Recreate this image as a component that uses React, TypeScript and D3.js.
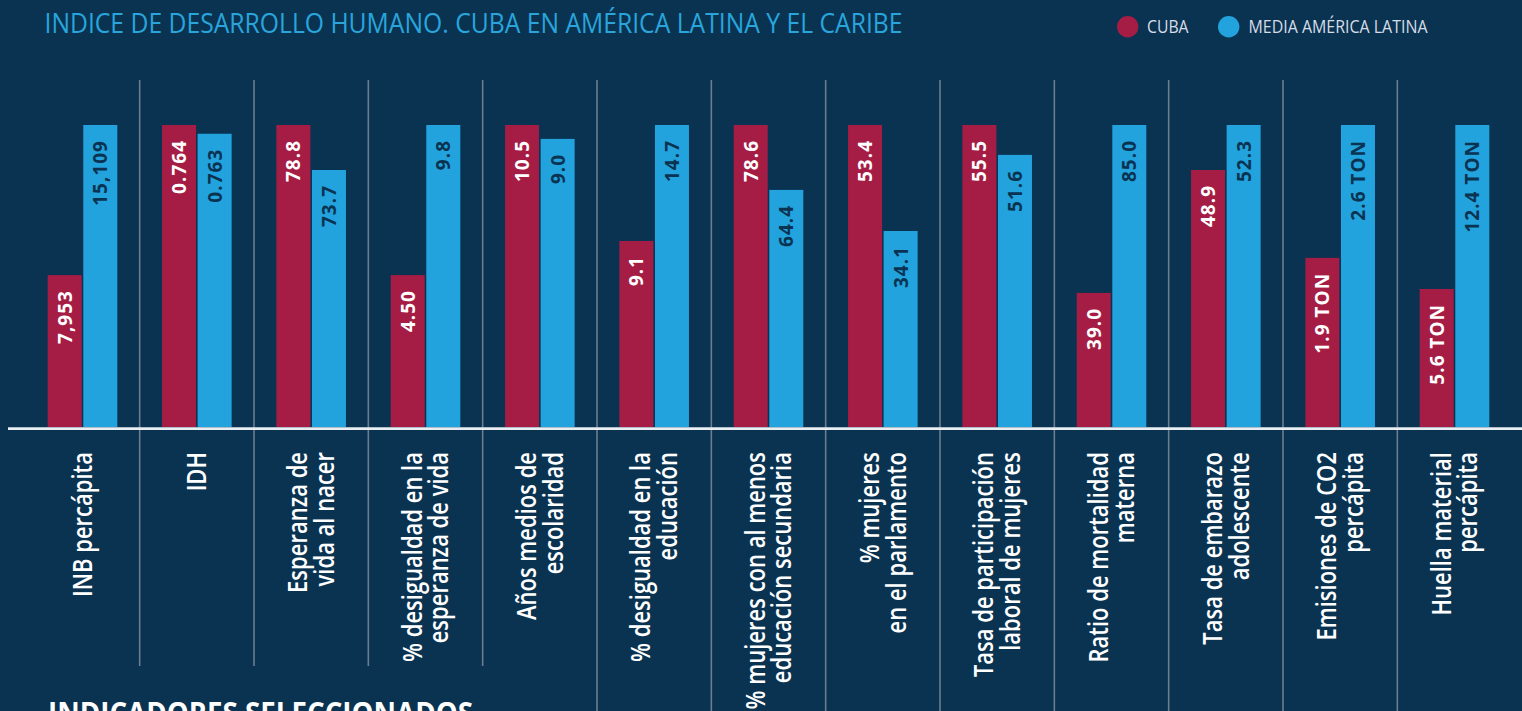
import React from "react";
import * as d3 from "d3";

const categorias: string[][] = [
  ["INB percápita"],
  ["IDH"],
  ["Esperanza de", "vida al nacer"],
  ["% desigualdad en la", "esperanza de vida"],
  ["Años medios de", "escolaridad"],
  ["% desigualdad en la", "educación"],
  ["% mujeres con al menos", "educación secundaria"],
  ["% mujeres", "en el parlamento"],
  ["Tasa de participación", "laboral de mujeres"],
  ["Ratio de mortalidad", "materna"],
  ["Tasa de embarazo", "adolescente"],
  ["Emisiones de CO2", "percápita"],
  ["Huella material", "percápita"],
];

const etiquetasCuba = ["7,953", "0.764", "78.8", "4.50", "10.5", "9.1", "78.6", "53.4", "55.5", "39.0", "48.9", "1.9 TON", "5.6 TON"];
const etiquetasMedia = ["15,109", "0.763", "73.7", "9.8", "9.0", "14.7", "64.4", "34.1", "51.6", "85.0", "52.3", "2.6 TON", "12.4 TON"];

// relative bar heights (% of the tallest bar in each group)
const alturaCuba = [50.3, 100, 100, 50.3, 100, 61.6, 100, 100, 100, 44.4, 85.1, 56.0, 45.7];
const alturaMedia = [100, 97.1, 85.1, 100, 95.4, 100, 78.5, 64.9, 90.1, 100, 100, 100, 100];

const series = ["CUBA", "MEDIA AMÉRICA LATINA"];

const W = 1522;
const H = 711;
const BG = "#0a3352";
const RED = "#a51d44";
const BLUE = "#23a3dd";
const GRID = "#6b7c8c";

export default function App() {
  const idx = categorias.map((_, i) => String(i));
  const x = d3.scaleBand<string>().domain(idx).range([25.33, 1511.67]).padding(0);
  const y = d3.scaleLinear().domain([0, 100]).range([427, 125]);
  const barW = 34;
  const font = "'Open Sans', 'Noto Sans', sans-serif";
  const lineH = 26.7;

  return (
    <svg
      width={W}
      height={H}
      style={{ position: "fixed", left: 0, top: 0, display: "block" }}
      fontFamily={font}
    >
      <rect x={0} y={0} width={W} height={H} fill={BG} />

      <text x={44.5} y={33.3} fontSize={28} fill="#29a5dc" textLength={858} lengthAdjust="spacingAndGlyphs">
        INDICE DE DESARROLLO HUMANO. CUBA EN AMÉRICA LATINA Y EL CARIBE
      </text>

      {/* legend */}
      <circle cx={1127.7} cy={26.7} r={10.7} fill={RED} />
      <text x={1147} y={33.3} fontSize={17.5} fill="#d5dde6" textLength={41.5} lengthAdjust="spacingAndGlyphs">
        {series[0]}
      </text>
      <circle cx={1228.7} cy={26.7} r={10.7} fill={BLUE} />
      <text x={1248.5} y={33.3} fontSize={17.5} fill="#d5dde6" textLength={179} lengthAdjust="spacingAndGlyphs">
        {series[1]}
      </text>

      {/* dividers */}
      {idx.slice(1).map((k, i) => {
        const xx = x(k)!;
        return (
          <line key={"d" + k} x1={xx} x2={xx} y1={80} y2={i < 4 ? 666 : 711} stroke={GRID} strokeWidth={1.6} />
        );
      })}

      {/* bars */}
      {idx.map((k, i) => {
        const c = x(k)! + x.bandwidth() / 2;
        const rx = c - 34.8;
        const bx = c + 0.8;
        const ry = y(alturaCuba[i]);
        const by = y(alturaMedia[i]);
        return (
          <g key={"b" + k}>
            <rect x={rx} y={ry} width={barW} height={y(0) - ry} fill={RED} />
            <rect x={bx} y={by} width={barW} height={y(0) - by} fill={BLUE} />
            <text
              transform={`translate(${rx + barW / 2 + 7},${ry + 15}) rotate(-90)`}
              textAnchor="end"
              fontSize={19}
              fontWeight={700}
              letterSpacing={1}
              fill="#ffffff"
            >
              {etiquetasCuba[i]}
            </text>
            <text
              transform={`translate(${bx + barW / 2 + 7},${by + 15}) rotate(-90)`}
              textAnchor="end"
              fontSize={19}
              fontWeight={700}
              letterSpacing={1}
              fill={BG}
            >
              {etiquetasMedia[i]}
            </text>
          </g>
        );
      })}

      {/* baseline */}
      <line x1={8} x2={W} y1={428.6} y2={428.6} stroke="#e9eef2" strokeWidth={2.6} />

      {/* category labels */}
      {idx.map((k, i) => {
        const c = x(k)! + x.bandwidth() / 2;
        const lines = categorias[i];
        const n = lines.length;
        return (
          <g key={"c" + k}>
            {lines.map((ln, j) => {
              const bx = c + 9.5 + (j - (n - 1) / 2) * lineH;
              return (
                <text
                  key={j}
                  transform={`translate(${bx},452) rotate(-90) scale(0.83,1)`}
                  textAnchor="end"
                  fontSize={26.5}
                  fontWeight={600}
                  fill="#ffffff"
                >
                  {ln}
                </text>
              );
            })}
          </g>
        );
      })}

      <text x={48} y={724} fontSize={30} fontWeight={700} fill="#ffffff" textLength={425} lengthAdjust="spacingAndGlyphs">
        INDICADORES SELECCIONADOS
      </text>
    </svg>
  );
}
